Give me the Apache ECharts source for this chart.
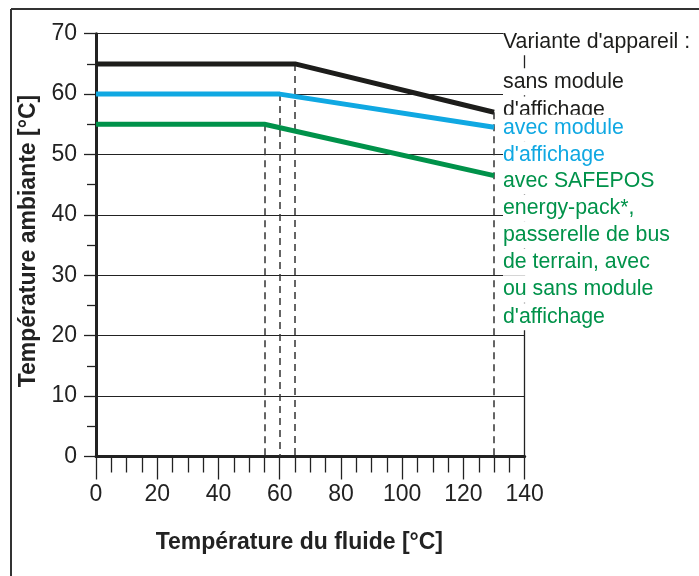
<!DOCTYPE html>
<html>
<head>
<meta charset="utf-8">
<script src="https://cdn.jsdelivr.net/npm/echarts@6/dist/echarts.min.js"></script>
<style>
html,body{margin:0;padding:0;background:#fff;}
#chart{width:699px;height:576px;}
</style>
</head>
<body>
<div id="chart"></div>
<script>
// ---- data ----
const blackX = [0, 65, 130];
const blackY = [65, 65, 57];
const blueX = [0, 60, 130];
const blueY = [60, 60, 54.5];
const greenX = [0, 55, 130];
const greenY = [55, 55, 46.5];
const dashX = [55, 60, 65, 130];
const dashTop = [55, 60, 65, 57];
const legendLines = [
  "Variante d'appareil :",
  "sans module",
  "d'affichage",
  "avec module",
  "d'affichage",
  "avec SAFEPOS",
  "energy-pack*,",
  "passerelle de bus",
  "de terrain, avec",
  "ou sans module",
  "d'affichage"
];
const legendColorKey = ['k','k','k','b','b','g','g','g','g','g','g'];
const legendYpos = [41.7, 81.7, 110, 128.3, 155, 181, 208.3, 235, 262.3, 289.3, 316.7];

const colors = {k:'#1d1d1b', b:'#10a8e2', g:'#00924a'};
const labelFont = '"Liberation Sans", Arial, sans-serif';

function pairs(xs, ys){ return xs.map((x,i)=>[x, ys[i]]); }

const chart = echarts.init(document.getElementById('chart'), null, {renderer:'canvas'});

const dashData = dashX.map((x,i)=>[{coord:[x, dashTop[i]]},{coord:[x, 0]}]);

const graphics = [
  {type:'line', shape:{x1:11, y1:9, x2:699, y2:9}, style:{stroke:'#333', lineWidth:2}, z:200},
  {type:'line', shape:{x1:11, y1:9, x2:11, y2:576}, style:{stroke:'#333', lineWidth:2}, z:200}
];
legendLines.forEach((t,i)=>{
  graphics.push({
    type:'text', x:503, y:legendYpos[i], z:100+i,
    style:{
      text:t, fill:colors[legendColorKey[i]],
      font:'21.3px ' + labelFont,
      verticalAlign:'middle', align:'left',
      backgroundColor:'#fff', padding:[4,2,3,0], lineHeight:20
    }
  });
});

chart.setOption({
  animation:false,
  backgroundColor:'#fff',
  grid:{left:96, top:33.7, right:174.3, bottom:119.5, containLabel:false},
  xAxis:{
    type:'value', min:0, max:140, interval:20,
    name:'Température du fluide [°C]', nameLocation:'middle', nameGap:75,
    nameTextStyle:{fontFamily:labelFont, fontWeight:'bold', fontSize:23, color:'#222', padding:[0,22,0,0]},
    axisLine:{show:true, onZero:false, lineStyle:{color:'#222', width:3}},
    axisTick:{show:true, inside:false, length:23, lineStyle:{color:'#222', width:1.3}},
    minorTick:{show:true, splitNumber:4, length:16, lineStyle:{color:'#222', width:1.3}},
    axisLabel:{margin:27, fontSize:23, color:'#222', fontFamily:labelFont},
    splitLine:{show:false}
  },
  yAxis:[{
    type:'value', min:0, max:70, interval:10,
    name:'Température ambiante [°C]', nameLocation:'middle', nameGap:48, nameRotate:90,
    nameTextStyle:{fontFamily:labelFont, fontWeight:'bold', fontSize:23, color:'#222', padding:[0,0,0,8]},
    axisLine:{show:true, onZero:false, lineStyle:{color:'#222', width:3}},
    axisTick:{show:true, inside:false, length:12, lineStyle:{color:'#222', width:1.3}},
    minorTick:{show:true, splitNumber:2, length:9, lineStyle:{color:'#222', width:1.3}},
    axisLabel:{margin:19, fontSize:23, color:'#222', fontFamily:labelFont},
    splitLine:{show:true, lineStyle:{color:'#222', width:1.2}}
  },{
    type:'value', min:0, max:70, interval:10, position:'right',
    axisLine:{show:true, onZero:false, lineStyle:{color:'#222', width:1.3}},
    axisTick:{show:false}, axisLabel:{show:false}, splitLine:{show:false}
  }],
  series:[
    {type:'line', data:pairs(blackX, blackY), symbol:'none', lineStyle:{color:colors.k, width:5}, z:5,
     markLine:{silent:true, symbol:'none', label:{show:false}, lineStyle:{color:'#333', width:1.5, type:[7,5]}, data:dashData}},
    {type:'line', data:pairs(blueX, blueY), symbol:'none', lineStyle:{color:colors.b, width:5}, z:5},
    {type:'line', data:pairs(greenX, greenY), symbol:'none', lineStyle:{color:colors.g, width:5}, z:5}
  ],
  graphic:graphics
});
</script>
</body>
</html>
